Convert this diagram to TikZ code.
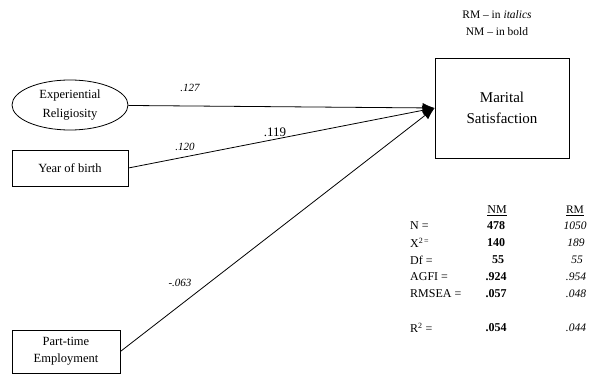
\documentclass[tikz,border=0pt]{standalone}
\usepackage{fontspec}
\setmainfont{Liberation Serif}
\usetikzlibrary{shapes.geometric,arrows.meta}
\tikzset{
  varbox/.style={draw=black, line width=0.8pt, rectangle, inner sep=0pt, align=center, font=\fontsize{12.5}{17}\selectfont},
  latentvar/.style={draw=black, line width=0.8pt, ellipse, inner sep=0pt, align=center, font=\fontsize{12.5}{19}\selectfont},
  path/.style={draw=black, line width=0.8pt, -{Latex[length=12pt,width=10pt]}},
  coef/.style={font=\fontsize{11}{13}\selectfont\itshape, inner sep=0pt},
  coefup/.style={font=\fontsize{13}{15}\selectfont, inner sep=0pt},
  tlabel/.style={font=\fontsize{12}{14}\selectfont, anchor=west, inner sep=0pt},
  tnm/.style={font=\fontsize{12}{14}\selectfont\bfseries, inner sep=0pt},
  trm/.style={font=\fontsize{11.5}{14}\selectfont\itshape, inner sep=0pt},
  legend/.style={font=\fontsize{11.5}{14}\selectfont, inner sep=0pt}
}
\begin{document}
\begin{tikzpicture}[x=1pt,y=-1pt]
\useasboundingbox (0,0) rectangle (600,377);
% legend
\node[legend] (leg1) at (497,15) {RM -- in \textit{italics}};
\node[legend] (leg2) at (497,32) {NM -- in bold};
% nodes
\node[varbox, minimum width=134pt, minimum height=100pt, font=\fontsize{15}{21}\selectfont] (ms) at (502,108) {Marital\\Satisfaction};
\node[latentvar, minimum width=116pt, minimum height=50pt] (rel) at (70,105) {Experiential\\Religiosity};
\node[varbox, minimum width=116pt, minimum height=36pt] (yob) at (70,168) {Year of birth};
\node[varbox, minimum width=108pt, minimum height=43pt] (pte) at (66,351.5) {Part-time\\Employment};
% paths
\draw[path] (rel) -- (ms.west);
\draw[path] (yob.east) -- (ms.west);
\draw[path] (pte.east) -- (ms.west);
% coefficients
\node[coef] (c1) at (190,88) {.127};
\node[coef] (c2) at (185,147) {.120};
\node[coefup] (c3) at (275,132) {.119};
\node[coef] (c4) at (180,283) {-.063};
% table
\node[font=\fontsize{12}{14}\selectfont, inner sep=0pt] (hnm) at (497,211) {\underline{NM}};
\node[font=\fontsize{11.5}{14}\selectfont, inner sep=0pt] (hrm) at (575,211) {\underline{RM}};
\node[tlabel] (l1) at (410,226) {N =};
\node[tlabel] (l2) at (410,243) {X\textsuperscript{2\,=}};
\node[tlabel] (l3) at (410,260) {Df =};
\node[tlabel] (l4) at (410,277) {AGFI =};
\node[tlabel] (l5) at (410,294) {RMSEA =};
\node[tlabel] (l6) at (410,328) {R\textsuperscript{2} =};
\node[tnm] (n1) at (496,226) {478};
\node[tnm] (n2) at (496,243) {140};
\node[tnm] (n3) at (498,260) {55};
\node[tnm] (n4) at (496,277) {.924};
\node[tnm] (n5) at (496,294) {.057};
\node[tnm] (n6) at (496,328) {.054};
\node[trm] (r1) at (575,226) {1050};
\node[trm] (r2) at (576,243) {189};
\node[trm] (r3) at (577,260) {55};
\node[trm] (r4) at (576,277) {.954};
\node[trm] (r5) at (576,294) {.048};
\node[trm] (r6) at (576,328) {.044};
\end{tikzpicture}
\end{document}
